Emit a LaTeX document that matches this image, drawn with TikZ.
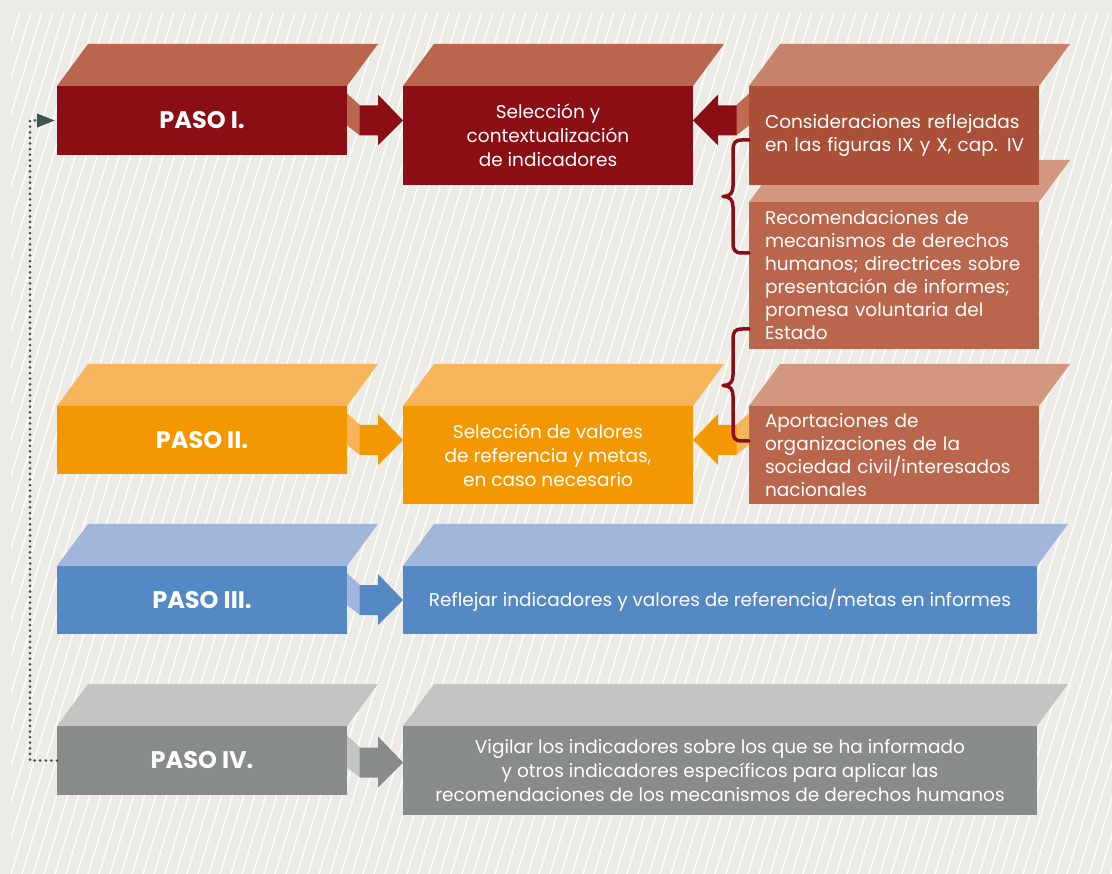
\documentclass[tikz,border=0pt]{standalone}
\usepackage{fontspec}
\setmainfont{Poppins}
\usetikzlibrary{arrows.meta,calc}
\definecolor{bgc}{HTML}{ECEBE6}
\definecolor{cRed}{HTML}{8B0E14}
\definecolor{cRedTop}{HTML}{B9664D}
\definecolor{cCons}{HTML}{AA4F38}
\definecolor{cConsTop}{HTML}{C6826A}
\definecolor{cRec}{HTML}{B9664C}
\definecolor{cRecTop}{HTML}{D3967E}
\definecolor{cSideC}{HTML}{BE6B51}
\definecolor{cOr}{HTML}{F39800}
\definecolor{cOrTop}{HTML}{F7B55B}
\definecolor{cBlue}{HTML}{5589C4}
\definecolor{cBlueTop}{HTML}{A2B5DA}
\definecolor{cGray}{HTML}{878C8A}
\definecolor{cGrayTop}{HTML}{C3C5C3}
\definecolor{cDot}{HTML}{3E5454}
\newcommand\mytop[2]{\fill[#2] (#1.north west) -- (#1.north east) -- ++(31,-42) -- ($(#1.north west)+(31,-42)$) -- cycle;}
\begin{document}
\begin{tikzpicture}[x=1pt,y=-1pt,
  box/.style={inner sep=0pt, outer sep=0pt, minimum width=290pt, text=white, align=center,
    font=\fontsize{18.5}{24}\selectfont},
  paso/.style={box, font=\fontsize{24}{28}\selectfont\bfseries},
  rbox/.style={box, align=left, text width=258pt, inner xsep=16pt, font=\fontsize{18.5}{23}\selectfont},
  bracel/.style={draw=cRed, line width=3.5pt, line cap=round, line join=round},
  dotline/.style={draw=cDot, line width=3pt, line cap=round, dash pattern=on 0pt off 5.6pt},
  pics/rarr/.style n args={2}{code={
    \fill[#2] (0,-27) -- (13,-15) -- (13,15) -- (0,5) -- cycle;
    \fill[#1] (12.5,-15) -- (31,-15) -- (31,-26) -- (56,0) -- (31,25) -- (31,15) -- (12.5,15) -- cycle;
  }},
  pics/larr/.style n args={2}{code={
    \fill[#2] (0,-27) -- (-13,-15) -- (-13,15) -- (0,5) -- cycle;
    \fill[#1] (-12.5,-15) -- (-31,-15) -- (-31,-26) -- (-56,0) -- (-31,25) -- (-31,15) -- (-12.5,15) -- cycle;
  }}
]
\useasboundingbox (0,0) rectangle (1112,874);
\fill[bgc] (0,0) rectangle (1112,874);
\begin{scope}
  \clip (11,12) rectangle (1112,874);
  \foreach \i in {-30,...,101} \draw[white, line width=1.3pt] (\i*11,874) -- ++(262,-862);
\end{scope}

% row 1
\node[paso, fill=cRed, minimum height=69pt] (p1) at (202,120.5) {PASO I.};
\mytop{p1}{cRedTop}
\node[box, fill=cRed, minimum height=99pt] (s1) at (548,135.5) {Selección y\\contextualización\\de indicadores};
\mytop{s1}{cRedTop}
\node[rbox, fill=cRec, minimum height=147pt] (r1) at (894,275.5) {Recomendaciones de\\mecanismos de derechos\\humanos; directrices sobre\\presentación de informes;\\promesa voluntaria del\\Estado};
\mytop{r1}{cRecTop}
\node[rbox, fill=cCons, minimum height=99pt] (c1) at (894,135.5) {Consideraciones reflejadas\\\mbox{en las figuras IX y X, cap. IV}};
\mytop{c1}{cConsTop}

% row 2
\node[paso, fill=cOr, minimum height=68pt] (p2) at (202,440) {PASO II.};
\mytop{p2}{cOrTop}
\node[box, fill=cOr, minimum height=98pt] (s2) at (548,455) {Selección de valores\\de referencia y metas,\\en caso necesario};
\mytop{s2}{cOrTop}
\node[rbox, fill=cRec, minimum height=98pt] (a1) at (894,455) {Aportaciones de\\organizaciones de la\\sociedad civil/interesados\\nacionales};
\mytop{a1}{cRecTop}

% row 3
\node[paso, fill=cBlue, minimum height=68pt] (p3) at (202,600) {PASO III.};
\mytop{p3}{cBlueTop}
\node[box, fill=cBlue, minimum width=634pt, minimum height=68pt] (s3) at (720,600) {Reflejar indicadores y valores de referencia/metas en informes};
\mytop{s3}{cBlueTop}

% row 4
\node[paso, fill=cGray, minimum height=69pt] (p4) at (202,760.5) {PASO IV.};
\mytop{p4}{cGrayTop}
\node[box, fill=cGray, minimum width=634pt, minimum height=89pt] (s4) at (720,770.5) {Vigilar los indicadores sobre los que se ha informado\\y otros indicadores específicos para aplicar las\\recomendaciones de los mecanismos de derechos humanos};
\mytop{s4}{cGrayTop}

% arrows
\pic at (p1.east) {rarr={cRed}{cRedTop}};
\pic at (c1.west |- p1.east) {larr={cRed}{cSideC}};
\pic at (p2.east) {rarr={cOr}{cOrTop}};
\pic at (a1.west |- p2.east) {larr={cOr}{cOrTop}};
\pic at (p3.east) {rarr={cBlue}{cBlueTop}};
\pic at ($(p4.east)+(0,2)$) {rarr={cGray}{cGrayTop}};

% braces
\draw[bracel] (749,140) -- (742,140) .. controls (735,140) and (733,143) .. (733,150) -- (733,186)
  .. controls (733,193) and (730,196.5) .. (723,196.5) .. controls (730,196.5) and (733,200) .. (733,207)
  -- (733,243) .. controls (733,250) and (735,253) .. (742,253) -- (749,253);
\draw[bracel] (749,329) -- (742,329) .. controls (735,329) and (733,332) .. (733,339) -- (733,375)
  .. controls (733,382) and (730,385.5) .. (723,385.5) .. controls (730,385.5) and (733,389) .. (733,396)
  -- (733,431) .. controls (733,438) and (735,441) .. (742,441) -- (749,441);

% feedback loop
\draw[dotline, shorten >=2pt, -{Triangle[length=18pt,width=13pt]}] (p4.west) -- ++(-27,0) |- (p1.west);
\end{tikzpicture}
\end{document}
